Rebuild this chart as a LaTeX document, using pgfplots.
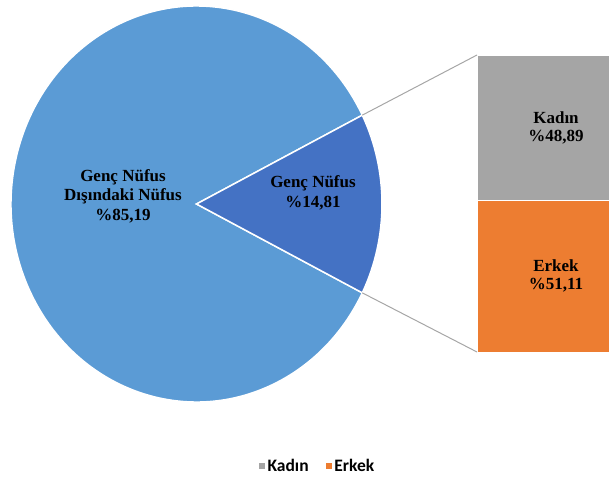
\documentclass[border=0pt]{standalone}
\usepackage{fontspec}
\setmainfont{Liberation Serif}
\newfontfamily\legfont{Carlito}
\usepackage{pgfplots}
\pgfplotsset{compat=1.18}

\definecolor{outerblue}{HTML}{5B9BD5}
\definecolor{innerblue}{HTML}{4472C4}
\definecolor{kadin}{HTML}{A5A5A5}
\definecolor{erkek}{HTML}{ED7D31}
\definecolor{connector}{HTML}{A6A6A6}

% pie shares (%)
\def\genc{14.81}
\def\diger{85.19}
% bar shares (%)
\def\kad{48.89}
\def\erk{51.11}

\begin{document}
\begin{tikzpicture}
\useasboundingbox (0,0) rectangle (609pt,483pt);
\pgfmathsetmacro{\half}{\genc*3.6/2}
\pgfmathsetmacro{\endang}{360-\half}
\pgfmathsetmacro{\negang}{-\half}
\pgfmathsetmacro{\erkmid}{131+2.97*\erk/2}
\pgfmathsetmacro{\kadmid}{131+2.97*(\erk+\kad/2)}

% bar of the young population
\begin{axis}[at={(477pt,131pt)}, anchor=south west, scale only axis,
  width=132pt, height=297pt, xmin=0, xmax=132, ymin=0, ymax=100,
  hide axis, ybar stacked, bar width=158pt,
  reverse legend, legend columns=2,
  legend image code/.code={\fill[#1] (0pt,-3pt) rectangle (7pt,4pt);},
  legend style={at={(-1.212,-0.384)}, anchor=center, draw=none, fill=none,
    font=\legfont\bfseries\fontsize{17.5}{20}\selectfont,
    /tikz/every even column/.append style={column sep=14pt}}]
\addplot[fill=erkek, draw=white, line width=0.8pt] coordinates {(79,\erk)};
\addplot[fill=kadin, draw=white, line width=0.8pt] coordinates {(79,\kad)};
\legend{Erkek, Kadın}
\end{axis}

% pie
\begin{axis}[at={(0pt,0pt)}, anchor=south west, scale only axis,
  width=609pt, height=483pt, xmin=0, xmax=609, ymin=0, ymax=483,
  hide axis, clip=false]
\fill[outerblue, draw=white, line width=1.5pt] (axis cs:196.5,279) -- ++(\half:185.5pt and 198pt)
  arc[start angle=\half, end angle=\endang, x radius=185.5pt, y radius=198pt] -- cycle;
\fill[innerblue, draw=white, line width=1.5pt] (axis cs:196.5,279) -- ++(\negang:185.5pt and 198pt)
  arc[start angle=\negang, end angle=\half, x radius=185.5pt, y radius=198pt] -- cycle;
\draw[connector, line width=1pt] (axis cs:196.5,279) ++(\half:185.5pt and 198pt) -- (axis cs:477,428);
\draw[connector, line width=1pt] (axis cs:196.5,279) ++(\negang:185.5pt and 198pt) -- (axis cs:477,131);
\node[font=\bfseries\fontsize{17}{19.5}\selectfont, align=center] at (axis cs:123,287)
  {Genç Nüfus\\Dışındaki Nüfus\\\%85,19};
\node[font=\bfseries\fontsize{17}{19.5}\selectfont, align=center] at (axis cs:313,290)
  {Genç Nüfus\\\%14,81};
\node[font=\bfseries\fontsize{17}{18}\selectfont, align=center] at (axis cs:556,\kadmid)
  {Kadın\\\%48,89};
\node[font=\bfseries\fontsize{17}{18}\selectfont, align=center] at (axis cs:556,\erkmid)
  {Erkek\\\%51,11};
\end{axis}
\end{tikzpicture}
\end{document}
